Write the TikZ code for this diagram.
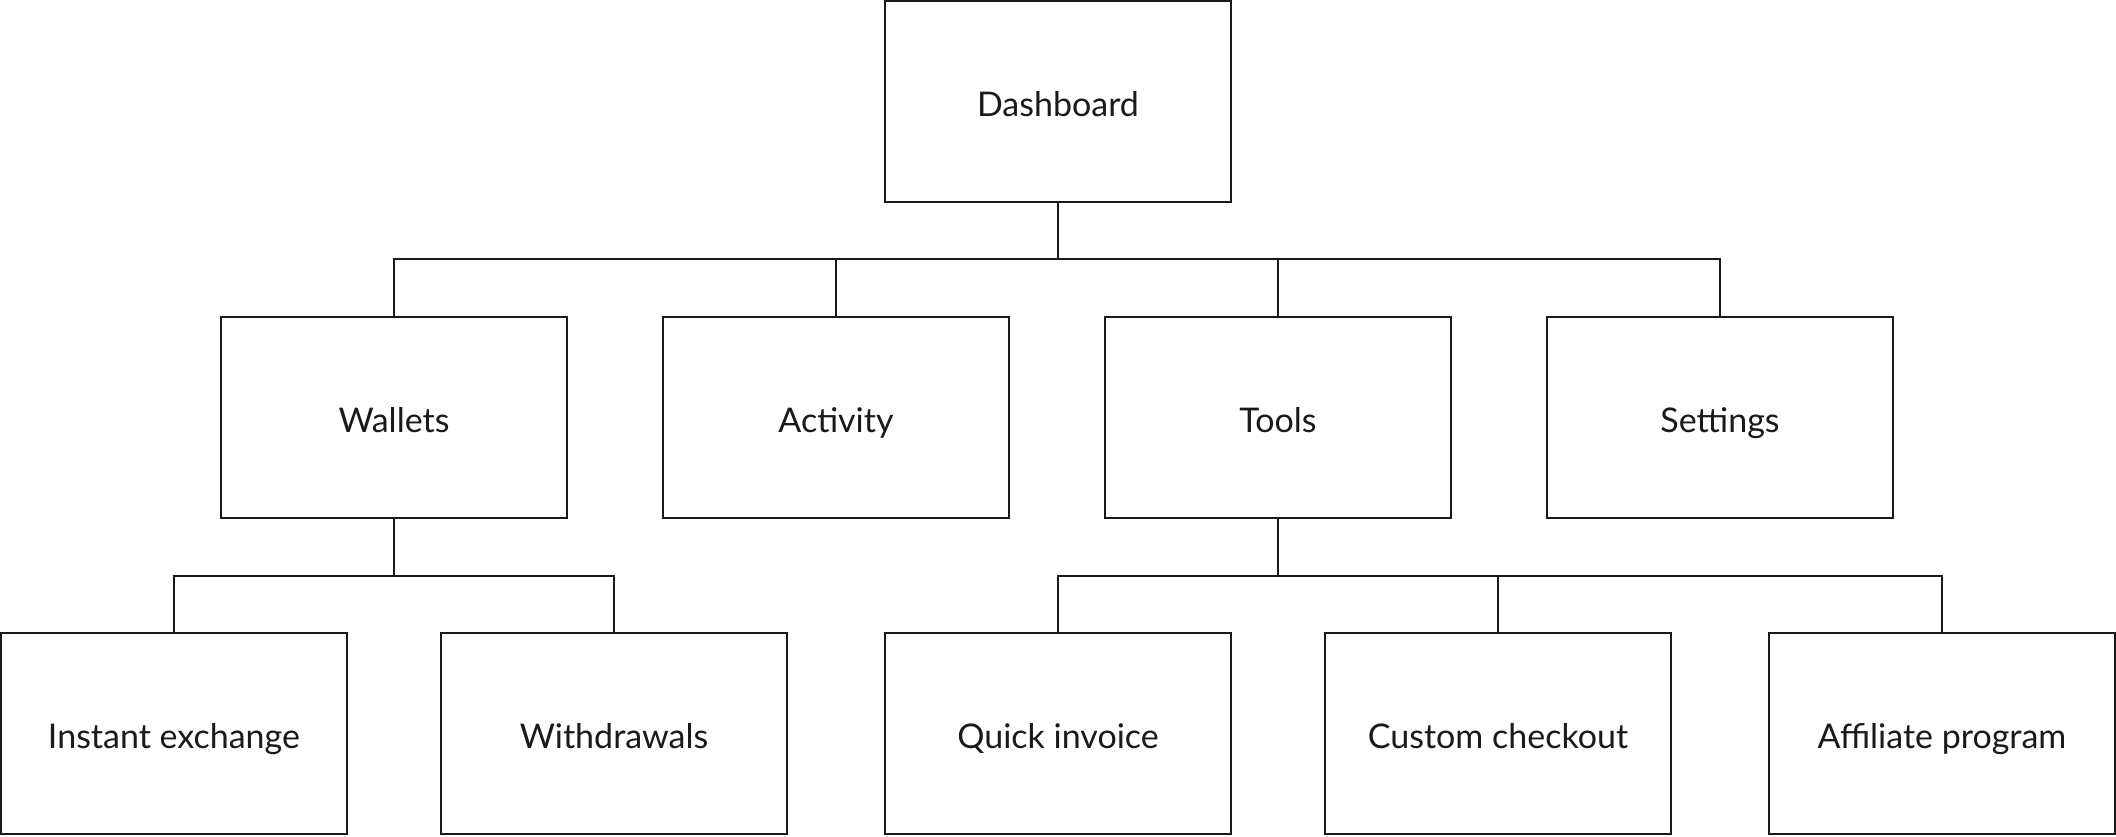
\documentclass[tikz,border=0pt]{standalone}
\usepackage{fontspec}
\setmainfont{Lato}
\definecolor{ink}{HTML}{1A1A1A}
\begin{document}
\begin{tikzpicture}[x=1pt,y=-1pt,
  box/.style={draw=ink, line width=2pt, rectangle, inner sep=0pt,
    minimum width=346pt, minimum height=201pt, text=ink,
    text height=30pt, text depth=0pt,
    font=\fontsize{34}{40}\selectfont},
  conn/.style={draw=ink, line width=2pt}]
\useasboundingbox[fill=white] (0,0) rectangle (2116,836);
% row 1
\node[box] (dash) at (1058,101.5) {Dashboard};
% row 2
\node[box] (wal) at (394,417.5) {Wallets};
\node[box] (act) at (836,417.5) {Activity};
\node[box] (tool) at (1278,417.5) {Tools};
\node[box] (set) at (1720,417.5) {Settings};
% row 3
\node[box] (ie) at (174,733.5) {Instant exchange};
\node[box] (wd) at (614,733.5) {Withdrawals};
\node[box] (qi) at (1058,733.5) {Quick invoice};
\node[box] (cc) at (1498,733.5) {Custom checkout};
\node[box] (af) at (1942,733.5) {Affiliate program};
% bus levels
\coordinate (busA) at (0,259);
\coordinate (busB) at (0,576);
% connectors
\draw[conn] (dash.south) -- (dash.south |- busA);
\draw[conn] (wal.north) -- (wal.north |- busA) -- (set.north |- busA) -- (set.north);
\draw[conn] (act.north) -- (act.north |- busA);
\draw[conn] (tool.north) -- (tool.north |- busA);
\draw[conn] (wal.south) -- (wal.south |- busB);
\draw[conn] (ie.north) -- (ie.north |- busB) -- (wd.north |- busB) -- (wd.north);
\draw[conn] (tool.south) -- (tool.south |- busB);
\draw[conn] (qi.north) -- (qi.north |- busB) -- (af.north |- busB) -- (af.north);
\draw[conn] (cc.north) -- (cc.north |- busB);
\end{tikzpicture}
\end{document}
